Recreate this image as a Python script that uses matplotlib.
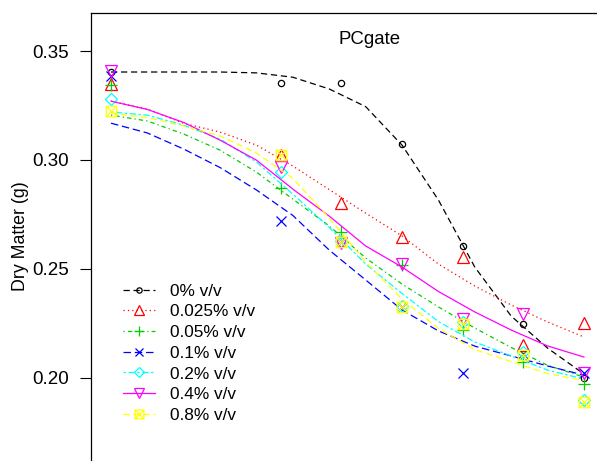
import matplotlib.pyplot as plt
from matplotlib.lines import Line2D
from matplotlib.path import Path

plt.rcParams["font.family"] = ["Liberation Sans", "DejaVu Sans"]

# --- Data ---
days = [0, 14, 19, 24, 29, 34, 39]
fit_days = [0, 3, 6, 9, 12, 15, 18, 21, 24, 27, 30, 33, 36, 39]

labels = ["0% v/v", "0.025% v/v", "0.05% v/v", "0.1% v/v",
          "0.2% v/v", "0.4% v/v", "0.8% v/v"]

obs_0    = [0.3404, 0.3352, 0.3352, 0.3072, 0.2605, 0.2245, 0.1997]
obs_0025 = [0.3348, 0.3023, 0.2801, 0.2648, 0.2553, 0.2150, 0.2253]
obs_005  = [0.3344, 0.2871, 0.2670, 0.2518, 0.2219, 0.2073, 0.1970]
obs_01   = [0.3385, 0.2719, 0.2625, 0.2325, 0.2020, 0.2110, 0.2020]
obs_02   = [0.3280, 0.2946, 0.2630, 0.2330, 0.2255, 0.2120, 0.1898]
obs_04   = [0.3408, 0.2969, 0.2618, 0.2521, 0.2268, 0.2291, 0.2020]
obs_08   = [0.3225, 0.3025, 0.2624, 0.2323, 0.2247, 0.2104, 0.1890]

fit_0    = [0.3404, 0.3404, 0.3404, 0.3404, 0.3400, 0.3380, 0.3326,
            0.3245, 0.3068, 0.2816, 0.2508, 0.2283, 0.2136, 0.2017]
fit_0025 = [0.3270, 0.3234, 0.3168, 0.3128, 0.3068, 0.2972, 0.2864,
            0.2756, 0.2651, 0.2522, 0.2421, 0.2334, 0.2256, 0.2187]
fit_005  = [0.3206, 0.3179, 0.3119, 0.3045, 0.2944, 0.2820, 0.2697,
            0.2550, 0.2430, 0.2325, 0.2228, 0.2139, 0.2057, 0.2003]
fit_01   = [0.3169, 0.3124, 0.3050, 0.2965, 0.2862, 0.2745, 0.2586,
            0.2449, 0.2311, 0.2215, 0.2145, 0.2100, 0.2054, 0.2012]
fit_02   = [0.3220, 0.3206, 0.3160, 0.3096, 0.2990, 0.2843, 0.2690,
            0.2522, 0.2387, 0.2258, 0.2164, 0.2100, 0.2035, 0.1994]
fit_04   = [0.3270, 0.3232, 0.3172, 0.3091, 0.2999, 0.2866, 0.2742,
            0.2605, 0.2508, 0.2396, 0.2302, 0.2219, 0.2146, 0.2095]
fit_08   = [0.3215, 0.3195, 0.3156, 0.3110, 0.3032, 0.2915, 0.2733,
            0.2531, 0.2361, 0.2226, 0.2129, 0.2074, 0.2019, 0.1987]

observed = [obs_0, obs_0025, obs_005, obs_01, obs_02, obs_04, obs_08]
fitted = [fit_0, fit_0025, fit_005, fit_01, fit_02, fit_04, fit_08]

# --- Styles (R default palette / pch / lty) ---
boxed_x = Path([(-1, -1), (1, -1), (1, 1), (-1, 1), (-1, -1),
                (-1, -1), (1, 1), (-1, 1), (1, -1)],
               [Path.MOVETO, Path.LINETO, Path.LINETO, Path.LINETO, Path.CLOSEPOLY,
                Path.MOVETO, Path.LINETO, Path.MOVETO, Path.LINETO])

colors  = ["black", "#FF0000", "#00CD00", "#0000FF", "#00FFFF", "#FF00FF", "#FFFF00"]
markers = ["o", "^", "+", "x", "D", "v", boxed_x]
msizes  = [4.5, 8, 9, 7, 6.5, 8, 7.5]
lstyles = [(0, (5, 3)), (0, (1, 2.5)), (0, (1, 2.5, 3.5, 2.5)), (0, (6, 3)),
           (0, (2, 2, 5, 2)), "-", (0, (5, 3))]

# --- Figure ---
W, H = 597, 461
fig = plt.figure(figsize=(W / 100, H / 100), dpi=100)
ax = fig.add_axes([91 / W, 1 - 486.6 / H, 512 / W, 473.6 / H])
ax.set_xlim(-1.65, 40.57)
ax.set_ylim(0.15, 0.3675)

for i in range(len(labels)):
    ax.plot(fit_days, fitted[i], color=colors[i], linestyle=lstyles[i], linewidth=0.9)
    ax.plot(days, observed[i], linestyle="none", marker=markers[i], markersize=msizes[i],
            markerfacecolor="none", markeredgecolor=colors[i], markeredgewidth=0.9)

ax.set_yticks([0.20, 0.25, 0.30, 0.35])
ax.set_yticklabels(["0.20", "0.25", "0.30", "0.35"])
ax.tick_params(axis="y", direction="out", length=7.9, width=0.8, pad=7.7, labelsize=13.5)
ax.set_xticks([])
for side in ["right", "bottom"]:
    ax.spines[side].set_visible(False)
for side in ["left", "top"]:
    ax.spines[side].set_linewidth(0.9)

fig.text(21 / W, 1 - 236 / H, "Dry Matter (g)", rotation=90, ha="center", va="center", fontsize=12.8)
fig.text(370 / W, 1 - 40 / H, "PCgate", ha="center", va="center", fontsize=13.4)

handles = [Line2D([], [], color=colors[i], linestyle=lstyles[i], linewidth=0.9,
                  marker=markers[i], markersize=msizes[i] * 0.85, markerfacecolor="none",
                  markeredgecolor=colors[i], markeredgewidth=0.9)
           for i in range(len(labels))]
fig.legend(handles, labels, loc="upper left", bbox_to_anchor=(123 / W, 1 - 283.5 / H),
           frameon=False, fontsize=12.4, handlelength=1.86, handletextpad=0.87,
           labelspacing=0.33, borderpad=0, borderaxespad=0)

fig.savefig("out.png", dpi=100)
